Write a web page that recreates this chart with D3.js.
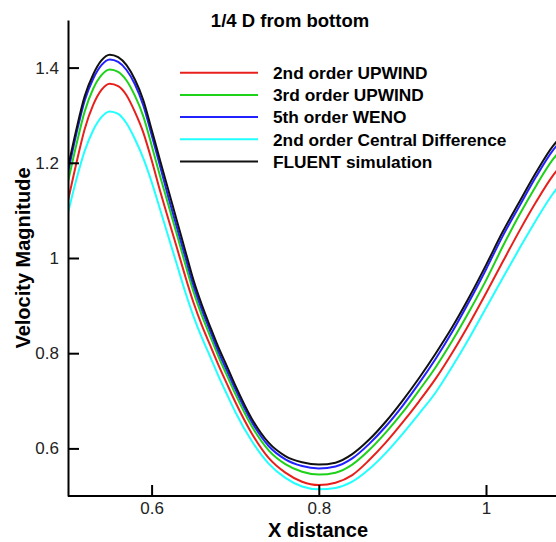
<!DOCTYPE html>
<html>
<head>
<meta charset="utf-8">
<script src="https://cdn.jsdelivr.net/npm/d3@7"></script>
<style>
  body { margin: 0; background: #fff; }
  text { font-family: Arial, "Liberation Sans", sans-serif; }
</style>
</head>
<body>
<div id="chart"></div>
<script>
// x positions shared by all series
var xDist = [0.50, 0.51, 0.52, 0.53, 0.54, 0.55, 0.56, 0.57, 0.58, 0.59,
             0.60, 0.61, 0.62, 0.63, 0.64, 0.65, 0.66, 0.67, 0.68, 0.69,
             0.70, 0.72, 0.74, 0.76, 0.78, 0.80, 0.82, 0.84, 0.86, 0.88,
             0.90, 0.92, 0.94, 0.96, 0.98, 1.00, 1.02, 1.04, 1.06, 1.08, 1.09];

var upwind2 = [1.120, 1.199, 1.271, 1.321, 1.353, 1.366, 1.361, 1.342, 1.307, 1.264,
               1.206, 1.142, 1.082, 1.023, 0.963, 0.907, 0.859, 0.817, 0.775, 0.736,
               0.698, 0.631, 0.580, 0.549, 0.530, 0.523, 0.528, 0.544, 0.575, 0.612,
               0.654, 0.699, 0.747, 0.802, 0.862, 0.926, 0.992, 1.057, 1.118, 1.173, 1.195];

var upwind3 = [1.160, 1.238, 1.308, 1.355, 1.384, 1.396, 1.391, 1.373, 1.341, 1.298,
               1.237, 1.173, 1.112, 1.051, 0.989, 0.930, 0.880, 0.836, 0.793, 0.754,
               0.715, 0.646, 0.596, 0.567, 0.551, 0.545, 0.549, 0.566, 0.596, 0.633,
               0.675, 0.722, 0.771, 0.827, 0.888, 0.953, 1.024, 1.091, 1.152, 1.207, 1.228];

var weno5 = [1.180, 1.261, 1.331, 1.376, 1.405, 1.417, 1.412, 1.395, 1.365, 1.321,
             1.259, 1.194, 1.128, 1.066, 1.004, 0.943, 0.892, 0.847, 0.803, 0.764,
             0.725, 0.655, 0.605, 0.577, 0.563, 0.558, 0.562, 0.579, 0.609, 0.646,
             0.689, 0.737, 0.789, 0.846, 0.909, 0.976, 1.046, 1.109, 1.171, 1.226, 1.247];

var central2 = [1.095, 1.165, 1.225, 1.268, 1.296, 1.308, 1.303, 1.283, 1.250, 1.210,
                1.160, 1.103, 1.045, 0.988, 0.930, 0.878, 0.833, 0.793, 0.752, 0.714,
                0.677, 0.615, 0.568, 0.538, 0.520, 0.514, 0.517, 0.530, 0.556, 0.590,
                0.630, 0.673, 0.718, 0.773, 0.832, 0.895, 0.958, 1.020, 1.080, 1.135, 1.158];

var fluent = [1.190, 1.270, 1.340, 1.385, 1.415, 1.427, 1.422, 1.405, 1.375, 1.332,
              1.270, 1.206, 1.143, 1.080, 1.017, 0.954, 0.902, 0.856, 0.812, 0.773,
              0.733, 0.662, 0.612, 0.584, 0.571, 0.566, 0.570, 0.588, 0.618, 0.656,
              0.700, 0.748, 0.800, 0.856, 0.918, 0.985, 1.055, 1.118, 1.180, 1.235, 1.255];

var seriesNames = ["2nd order UPWIND", "3rd order UPWIND", "5th order WENO",
                   "2nd order Central Difference", "FLUENT simulation"];
var seriesValues = [upwind2, upwind3, weno5, central2, fluent];
var seriesColors = ["#e8201c", "#1ed21a", "#2222ff", "#22ffff", "#111111"];

var xTicks = [0.6, 0.8, 1.0];
var yTicks = [0.6, 0.8, 1.0, 1.2, 1.4];

var width = 556, height = 542;

var svg = d3.select("#chart")
    .append("svg")
    .attr("width", width)
    .attr("height", height);

var xScale = d3.scaleLinear().domain([0.5, 1.0]).range([68, 486]);
var yScale = d3.scaleLinear().domain([0.5, 1.5]).range([496, 20]);

svg.append("clipPath")
    .attr("id", "plotclip")
    .append("rect")
    .attr("x", 69).attr("y", 0)
    .attr("width", width - 69).attr("height", 495);

var line = d3.line()
    .x(function (d) { return xScale(d[0]); })
    .y(function (d) { return yScale(d[1]); })
    .curve(d3.curveMonotoneX);

var plot = svg.append("g").attr("clip-path", "url(#plotclip)");

seriesValues.forEach(function (vals, i) {
    plot.append("path")
        .datum(xDist.map(function (x, j) { return [x, vals[j]]; }))
        .attr("fill", "none")
        .attr("stroke", seriesColors[i])
        .attr("stroke-width", 2)
        .attr("d", line);
});

// axes, ticks pointing inward
var fmt = function (d) { return d === 1 ? "1" : d3.format(".1f")(d); };

var xAxis = svg.append("g")
    .attr("transform", "translate(0," + yScale(0.5) + ")")
    .call(d3.axisTop(xScale).tickValues(xTicks).tickSize(11).tickSizeOuter(0).tickFormat(fmt));
xAxis.select(".domain").attr("d", "M68,0H" + width);
xAxis.selectAll("text")
    .attr("y", 6).attr("dy", "0.71em")
    .style("font-size", "17px").attr("fill", "#222");

var yAxis = svg.append("g")
    .attr("transform", "translate(" + xScale(0.5) + ",0)")
    .call(d3.axisRight(yScale).tickValues(yTicks).tickSize(11).tickSizeOuter(0).tickFormat(fmt));
yAxis.selectAll("text")
    .attr("x", -9).attr("text-anchor", "end")
    .style("font-size", "17px").attr("fill", "#222");

svg.selectAll(".domain, .tick line")
    .attr("stroke", "#000")
    .attr("stroke-width", 2);

svg.append("text")
    .attr("x", 290)
    .attr("y", 27)
    .attr("text-anchor", "middle")
    .style("font-size", "18.5px")
    .style("font-weight", "bold")
    .text("1/4 D from bottom");

svg.append("text")
    .attr("x", 318)
    .attr("y", 537)
    .attr("text-anchor", "middle")
    .style("font-size", "20px")
    .style("font-weight", "bold")
    .text("X distance");

svg.append("text")
    .attr("transform", "translate(30,258) rotate(-90)")
    .attr("text-anchor", "middle")
    .style("font-size", "20px")
    .style("font-weight", "bold")
    .text("Velocity Magnitude");

// legend
var legend = svg.append("g");
seriesNames.forEach(function (name, i) {
    var y = 72.7 + i * 22.2;
    legend.append("line")
        .attr("x1", 180).attr("x2", 258)
        .attr("y1", y).attr("y2", y)
        .attr("stroke", seriesColors[i])
        .attr("stroke-width", 2);
    legend.append("text")
        .attr("x", 273)
        .attr("y", y)
        .attr("dy", "0.36em")
        .style("font-size", "17.3px")
        .style("font-weight", "bold")
        .text(name);
});
</script>
</body>
</html>
